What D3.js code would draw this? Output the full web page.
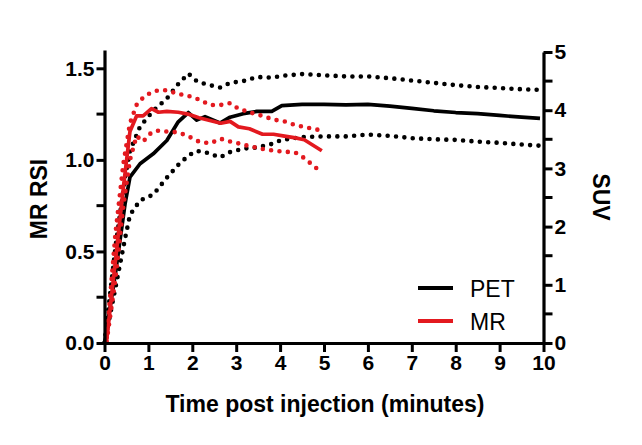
<!DOCTYPE html>
<html>
<head>
<meta charset="utf-8">
<script src="https://cdn.jsdelivr.net/npm/d3@7"></script>
<style>
  html, body { margin: 0; padding: 0; background: #fff; }
  svg { display: block; }
  text { font-family: "Liberation Sans", Arial, Helvetica, sans-serif; }
</style>
</head>
<body>
<svg id="chart" width="642" height="445"></svg>
<script>
// ---- Data ----
const xTicks = [0, 1, 2, 3, 4, 5, 6, 7, 8, 9, 10];
const leftTicks = [0, 0.5, 1.0, 1.5];
const leftMinor = [0.25, 0.75, 1.25];
const rightTicks = [0, 1, 2, 3, 4, 5];
const rightMinor = [0.5, 1.5, 2.5, 3.5, 4.5];

// PET (SUV, right axis)
const petTime  = [0, 0.25, 0.47, 0.58, 0.81, 1.11, 1.42, 1.68, 1.91, 2.1, 2.29, 2.63, 2.86, 3.16, 3.47, 3.81, 4.04, 4.5, 5.0, 5.5, 6.0, 6.5, 7.0, 7.5, 8.0, 8.5, 9.0, 9.5, 9.92];
const petMean  = [0, 1.2, 2.4, 2.85, 3.08, 3.25, 3.48, 3.8, 3.96, 3.83, 3.89, 3.78, 3.88, 3.94, 3.98, 3.98, 4.08, 4.10, 4.10, 4.09, 4.10, 4.07, 4.03, 3.99, 3.96, 3.94, 3.91, 3.88, 3.86];
const petUpper = [0, 1.65, 2.85, 3.3, 3.72, 3.99, 4.2, 4.45, 4.63, 4.50, 4.45, 4.39, 4.47, 4.50, 4.57, 4.56, 4.59, 4.62, 4.60, 4.58, 4.58, 4.55, 4.51, 4.47, 4.43, 4.40, 4.38, 4.36, 4.35];
const petLower = [0, 0.95, 1.8, 2.2, 2.45, 2.55, 2.84, 3.06, 3.22, 3.30, 3.28, 3.19, 3.28, 3.34, 3.36, 3.42, 3.49, 3.54, 3.55, 3.55, 3.58, 3.56, 3.52, 3.50, 3.49, 3.46, 3.44, 3.41, 3.39];

// MR (RSI, left axis)
const mrTime  = [0.05, 0.25, 0.43, 0.58, 0.73, 0.88, 1.07, 1.23, 1.42, 1.68, 1.9, 2.15, 2.4, 2.65, 2.86, 3.05, 3.3, 3.6, 3.85, 4.1, 4.35, 4.55, 4.75, 4.95];
const mrMean  = [0.02, 0.45, 0.85, 1.155, 1.24, 1.24, 1.28, 1.26, 1.265, 1.26, 1.25, 1.23, 1.215, 1.20, 1.21, 1.18, 1.17, 1.14, 1.14, 1.13, 1.12, 1.11, 1.08, 1.05];
const mrUpper = [0.03, 0.6, 0.98, 1.2, 1.30, 1.34, 1.37, 1.38, 1.38, 1.36, 1.35, 1.33, 1.30, 1.30, 1.31, 1.28, 1.26, 1.24, 1.22, 1.21, 1.19, 1.18, 1.17, 1.16];
const mrLower = [0.01, 0.35, 0.75, 1.0, 1.13, 1.10, 1.15, 1.16, 1.155, 1.15, 1.13, 1.10, 1.09, 1.115, 1.10, 1.09, 1.075, 1.06, 1.05, 1.045, 1.04, 1.01, 0.97, 0.93];

const seriesNames = ["PET", "MR"];
const seriesColors = ["#000000", "#e3191f"];

// ---- Layout ----
const svg = d3.select("#chart");
const x = d3.scaleLinear().domain([0, 10]).range([104.5, 543.5]);
const yL = d3.scaleLinear().domain([0, 1.6]).range([343, 50]);
const yR = d3.scaleLinear().domain([0, 5]).range([343, 52]);

const FONT = "'Liberation Sans', Arial, Helvetica, sans-serif";

function drawSeries(times, vals, scale, color, dotted) {
  const data = times.map((t, i) => [t, vals[i]]);
  const line = d3.line().x(d => x(d[0])).y(d => scale(d[1]));
  const p = svg.append("path").datum(data)
    .attr("d", line)
    .attr("fill", "none")
    .attr("stroke", color)
    .attr("stroke-linejoin", "round");
  if (dotted) {
    p.attr("stroke-width", 4.6).attr("stroke-linecap", "round").attr("stroke-dasharray", "0 8.4");
  } else {
    p.attr("stroke-width", 3.7).attr("stroke-linecap", "butt");
  }
}

// PET (black) first, MR (red) on top
drawSeries(petTime, petUpper, yR, seriesColors[0], true);
drawSeries(petTime, petLower, yR, seriesColors[0], true);
drawSeries(petTime, petMean, yR, seriesColors[0], false);
drawSeries(mrTime, mrUpper, yL, seriesColors[1], true);
drawSeries(mrTime, mrLower, yL, seriesColors[1], true);
drawSeries(mrTime, mrMean, yL, seriesColors[1], false);

// ---- Axes ----
function styleAxis(g) {
  g.selectAll("path.domain").attr("stroke", "#000").attr("stroke-width", 3.2);
  g.selectAll(".tick line").attr("stroke", "#000").attr("stroke-width", 3);
  g.selectAll(".tick text").attr("font-family", FONT).attr("font-weight", "bold")
    .attr("font-size", 21).attr("fill", "#000");
}

const gx = svg.append("g").attr("transform", "translate(0,343)")
  .call(d3.axisBottom(x).tickValues(xTicks).tickFormat(d3.format("d")).tickSize(9).tickSizeOuter(0).tickPadding(3));
styleAxis(gx);

const gl = svg.append("g").attr("transform", "translate(104.5,0)")
  .call(d3.axisLeft(yL).tickValues(leftTicks).tickFormat(d3.format(".1f")).tickSize(8).tickSizeOuter(0).tickPadding(2));
styleAxis(gl);
gl.selectAll(".minor").data(leftMinor).enter().append("line")
  .attr("x1", -8).attr("x2", 0).attr("y1", d => yL(d)).attr("y2", d => yL(d))
  .attr("stroke", "#000").attr("stroke-width", 3);

const gr = svg.append("g").attr("transform", "translate(543.5,0)")
  .call(d3.axisRight(yR).tickValues(rightTicks).tickFormat(d3.format("d")).tickSize(9).tickSizeOuter(0).tickPadding(2));
styleAxis(gr);
gr.selectAll(".minor").data(rightMinor).enter().append("line")
  .attr("x1", 0).attr("x2", 9).attr("y1", d => yR(d)).attr("y2", d => yR(d))
  .attr("stroke", "#000").attr("stroke-width", 3);

// ---- Titles ----
svg.append("text").attr("x", 325).attr("y", 412).attr("text-anchor", "middle")
  .attr("font-family", FONT).attr("font-weight", "bold").attr("font-size", 23)
  .text("Time post injection (minutes)");
svg.append("text").attr("transform", "translate(47,199) rotate(-90)").attr("text-anchor", "middle")
  .attr("font-family", FONT).attr("font-weight", "bold").attr("font-size", 23)
  .text("MR RSI");
svg.append("text").attr("transform", "translate(593,197) rotate(90)").attr("text-anchor", "middle")
  .attr("font-family", FONT).attr("font-weight", "bold").attr("font-size", 23)
  .text("SUV");

// ---- Legend ----
const legendY = [288, 321];
seriesNames.forEach((name, i) => {
  svg.append("line").attr("x1", 418).attr("x2", 453).attr("y1", legendY[i]).attr("y2", legendY[i])
    .attr("stroke", seriesColors[i]).attr("stroke-width", 4);
  svg.append("text").attr("x", 470).attr("y", legendY[i] + 8.5)
    .attr("font-family", FONT).attr("font-size", 23).attr("fill", "#000")
    .text(name);
});
</script>
</body>
</html>
